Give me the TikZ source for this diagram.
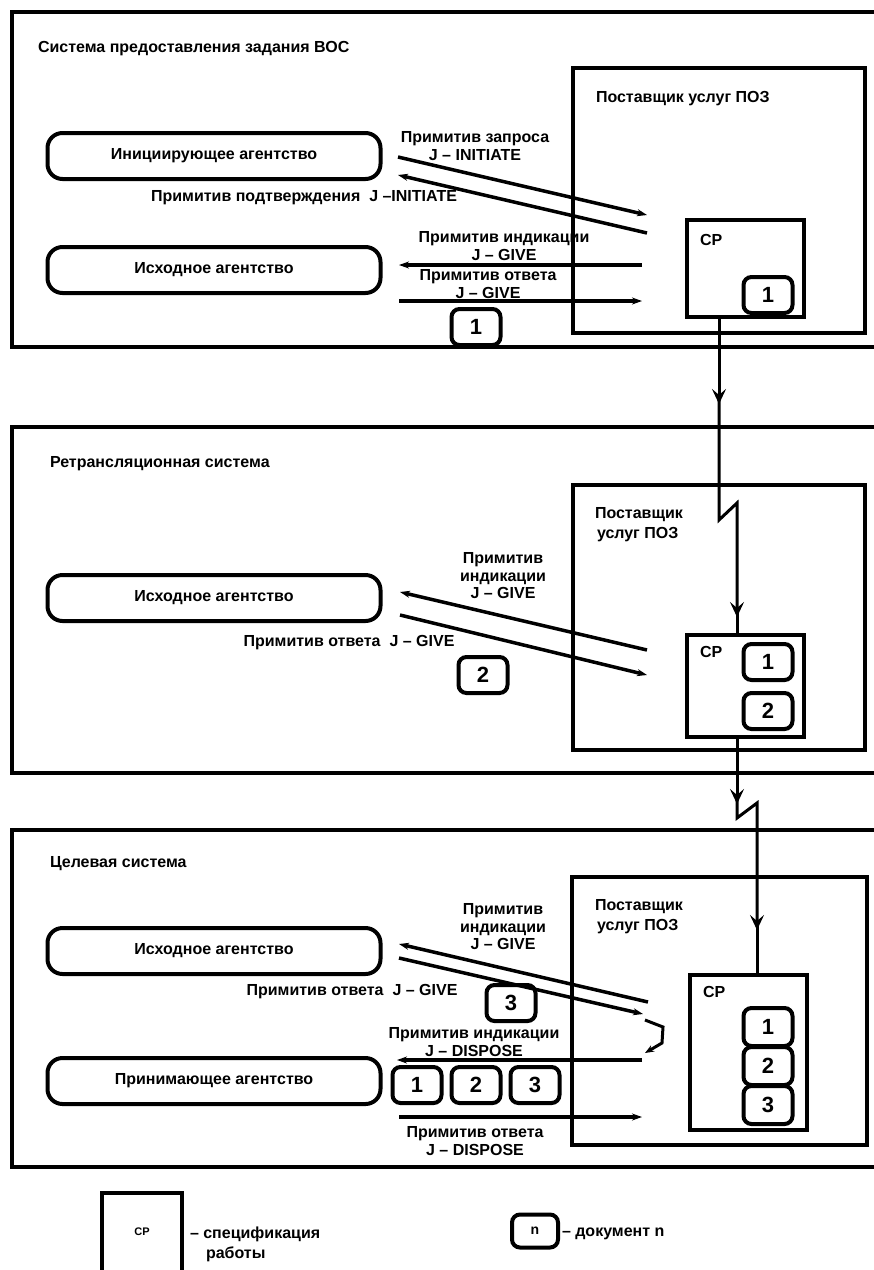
\documentclass[tikz,border=0pt]{standalone}
\usepackage{fontspec}
\setmainfont{Liberation Sans}
\usetikzlibrary{arrows.meta}
\newcommand{\lblf}{\fontsize{16}{17.5}\selectfont\bfseries}
\begin{document}
\begin{tikzpicture}[x=1pt,y=-1pt,
  every node/.style={inner sep=0pt, outer sep=0pt},
  panel/.style={draw, line width=4.5pt, anchor=north west},
  prov/.style={draw, line width=4pt, anchor=north west},
  cpbox/.style={draw, line width=4pt, anchor=north west},
  agent/.style={draw, line width=4pt, rounded corners=15pt, minimum width=333pt, minimum height=46pt, font=\lblf},
  doc/.style={draw, line width=4pt, rounded corners=8pt, minimum width=49pt, minimum height=36pt, font=\fontsize{22}{22}\selectfont\bfseries},
  cpdoc/.style={doc, minimum height=38pt},
  lbl/.style={font=\lblf, align=center},
  ttl/.style={font=\lblf, anchor=base west},
  prim/.style={line width=3.5pt, -{Stealth[length=10pt,width=7pt]}},
  conn/.style={line width=3pt},
  connarr/.style={conn, -{Stealth[length=15pt,width=14pt,inset=6pt]}},
]
\useasboundingbox (0,0) rectangle (874,1270);
\fill[white] (0,0) rectangle (874,1270);

% ---------------- top panel ----------------
\node[panel, minimum width=872pt, minimum height=335pt] (sys1) at (12,12) {};
\node[ttl] (t1) at (38,52) {Система предоставления задания ВОС};
\node[prov, minimum width=292pt, minimum height=265pt] (prov1) at (573,68) {};
\node[ttl] (pt1) at (596,102) {Поставщик услуг ПОЗ};
\node[agent] (ag1) at (214,156) {Инициирующее агентство};
\node[agent] (ag2) at (214,270) {Исходное агентство};
\node[cpbox, minimum width=117pt, minimum height=97pt] (cp1) at (687,220) {};
\node[ttl] (cpl1) at (700,245) {СР};
\node[doc] (d1a) at (768,295) {1};
\node[doc] (d1b) at (476,327) {1};

\coordinate (a1s) at (398,157); \coordinate (a1e) at (647,215);
\coordinate (a2s) at (647,233); \coordinate (a2e) at (398,175);
\draw[prim] (a1s) -- (a1e);
\draw[prim] (a2s) -- (a2e);
\node[lbl] (l1) at (475,146) {Примитив запроса\\J – INITIATE};
\node[lbl] (l2) at (304,198) {Примитив подтверждения \ J –INITIATE};
\node[lbl] (l3) at (504,246) {Примитив индикации\\J – GIVE};
\coordinate (a3s) at (642,265); \coordinate (a3e) at (399,265);
\draw[prim] (a3s) -- (a3e);
\node[lbl] (l4) at (488,284) {Примитив ответа\\J – GIVE};
\coordinate (a4s) at (399,301); \coordinate (a4e) at (642,301);
\draw[prim] (a4s) -- (a4e);

% ---------------- middle panel ----------------
\node[panel, minimum width=872pt, minimum height=346pt] (sys2) at (12,427) {};
\node[ttl] (t2) at (50,467) {Ретрансляционная система};
\node[prov, minimum width=292pt, minimum height=265pt] (prov2) at (573,485) {};
\node[ttl] (pt2a) at (595,518) {Поставщик};
\node[ttl] (pt2b) at (597,538) {услуг ПОЗ};
\node[agent] (ag3) at (214,598) {Исходное агентство};
\node[lbl] (l5) at (503,576) {Примитив\\индикации\\J – GIVE};
\coordinate (b1s) at (647,650); \coordinate (b1e) at (400,592);
\coordinate (b2s) at (400,615); \coordinate (b2e) at (647,675);
\draw[prim] (b1s) -- (b1e);
\draw[prim] (b2s) -- (b2e);
\node[lbl] (l6) at (349,643) {Примитив ответа \ J – GIVE};
\node[doc] (d2) at (483,675) {2};
\node[cpbox, minimum width=117pt, minimum height=102pt] (cp2) at (687,635) {};
\node[ttl] (cpl2) at (700,657) {СР};
\node[doc] (d2a) at (768,662) {1};
\node[doc] (d2b) at (768,711) {2};

% ---------------- bottom panel ----------------
\node[panel, minimum width=872pt, minimum height=337pt] (sys3) at (12,830) {};
\node[ttl] (t3) at (50,867) {Целевая система};
\node[prov, minimum width=295pt, minimum height=268pt] (prov3) at (572,877) {};
\node[ttl] (pt3a) at (595,910) {Поставщик};
\node[ttl] (pt3b) at (597,930) {услуг ПОЗ};
\node[agent] (ag4) at (214,951) {Исходное агентство};
\node[lbl] (l7) at (503,927) {Примитив\\индикации\\J – GIVE};
\coordinate (c1s) at (648,1002); \coordinate (c1e) at (399,944);
\coordinate (c2s) at (399,958); \coordinate (c2e) at (643,1014);
\draw[prim] (c1s) -- (c1e);
\draw[prim] (c2s) -- (c2e);
\coordinate (h1) at (645,1020); \coordinate (h2) at (645,1053);
\draw[line width=3pt, -{Stealth[length=9pt,width=7pt]}] (h1) -- (663,1027) -- (662,1043) -- (h2);
\node[lbl] (l8) at (352,992) {Примитив ответа \ J – GIVE};
\node[doc] (d3) at (511,1003) {3};
\node[lbl] (l9) at (474,1042) {Примитив индикации\\J – DISPOSE};
\coordinate (c3s) at (642,1060); \coordinate (c3e) at (397,1060);
\draw[prim] (c3s) -- (c3e);
\node[agent] (ag5) at (214,1081) {Принимающее агентство};
\node[doc] (r1) at (417,1085) {1};
\node[doc] (r2) at (476,1085) {2};
\node[doc] (r3) at (535,1085) {3};
\coordinate (c4s) at (399,1117); \coordinate (c4e) at (642,1117);
\draw[prim] (c4s) -- (c4e);
\node[lbl] (l10) at (475,1141) {Примитив ответа\\J – DISPOSE};
\node[cpbox, minimum width=117pt, minimum height=155pt] (cp3) at (690,975) {};
\node[ttl] (cpl3) at (703,997) {СР};
\node[cpdoc] (d3a) at (768,1027) {1};
\node[cpdoc] (d3b) at (768,1066) {2};
\node[cpdoc] (d3c) at (768,1105) {3};

% ---------------- connectors between CP ----------------
\coordinate (x1) at (719,0);
\coordinate (x2) at (737,0);
\coordinate (x3) at (757,0);
\draw[connarr] (cp1.south -| x1) -- (719,404);
\draw[connarr] (719,398) -- (719,520) -- (737,503) -- (737,617);
\draw[conn] (737,610) -- (cp2.north -| x2);
\draw[connarr] (cp2.south -| x2) -- (737,804);
\draw[connarr] (737,798) -- (737,818) -- (757,803) -- (757,930);
\draw[conn] (757,924) -- (cp3.north -| x3);

% ---------------- legend ----------------
\node[draw, line width=4pt, anchor=north west, minimum width=80pt, minimum height=90pt] (lg1) at (102,1193) {};
\node[font=\fontsize{11}{11}\selectfont\bfseries] (lgcp) at (142,1232) {СР};
\node[font=\lblf, anchor=base west] (lgt1) at (190,1238) {– спецификация};
\node[font=\lblf, anchor=base west] (lgt2) at (206,1258) {работы};
\node[doc, minimum width=46pt, minimum height=33pt, font=\fontsize{14}{14}\selectfont\bfseries] (lgd) at (535,1231) {n};
\node[font=\lblf, anchor=base west] (lgt3) at (562,1236) {– документ n};
\end{tikzpicture}
\end{document}
